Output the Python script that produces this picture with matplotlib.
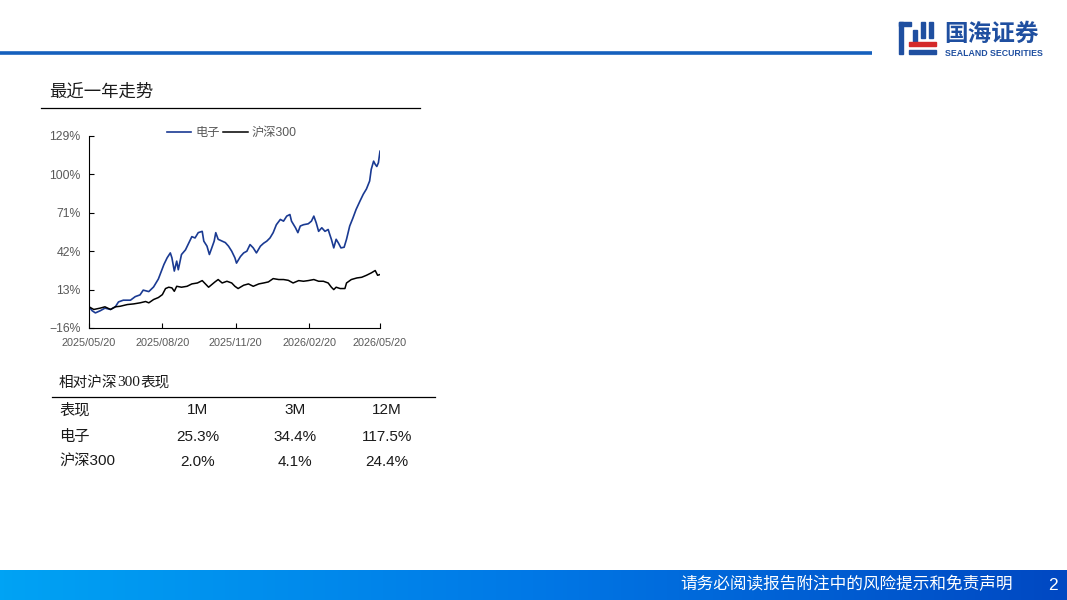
import matplotlib
matplotlib.use("Agg")
import matplotlib.pyplot as plt
import matplotlib.dates as mdates
from matplotlib.patches import Rectangle
import numpy as np

plt.rcParams['font.family'] = ['Liberation Sans', 'Noto Sans CJK SC', 'DejaVu Sans']

# days since 2025/05/20 and cumulative return (%)
dz_days = [0, 4, 8, 14, 20, 27, 33, 37, 43, 52, 58, 64, 68, 75, 81, 87, 94, 98, 102, 104,
           107, 110, 112, 116, 121, 125, 129, 133, 137, 142, 144, 148, 151, 154, 157, 159, 162,
           167, 171, 175, 179, 183, 185, 190, 194, 198, 202, 206, 210, 215, 219, 223, 227, 231,
           235, 240, 244, 248, 252, 254, 259, 262, 265, 269, 275, 279, 282, 285, 288, 292, 296,
           300, 302, 304, 307, 310, 313, 316, 320, 323, 327, 331, 335, 340, 344, 348, 352, 354,
           357, 359, 361, 363, 365]
dz_vals = [0, -3, -4.6, -3, -1, -2, 0, 3.7, 5, 5, 7.7, 9, 12.6, 11.5, 15, 21, 32, 37, 40.7, 37,
           27, 34.5, 28, 39.5, 43, 48, 53, 52, 56, 57, 49.6, 45.8, 39.5, 44.5, 49.6, 56, 51,
           49.6, 48.5, 45.8, 42, 37, 33, 38, 40.7, 42, 47, 44.5, 40.7, 45.8, 48, 49.6, 52, 56,
           62, 66, 64.7, 68.5, 69.7, 64.7, 59.7, 56, 61, 62, 62.7, 64.7, 68.5, 63.4, 57, 59.7, 57,
           58.4, 54.6, 51, 44.5, 51, 48, 44.5, 45, 51, 61, 67, 73.5, 80, 85, 89, 95, 103.8,
           110, 107.6, 106, 108.8, 117.5]

hs_days = [0, 6, 14, 20, 27, 33, 39, 48, 56, 64, 71, 75, 81, 87, 92, 96, 100, 104, 107, 110,
           116, 123, 129, 136, 142, 146, 150, 154, 158, 162, 167, 173, 179, 183, 187, 194, 200,
           206, 213, 219, 225, 231, 238, 244, 250, 256, 263, 269, 275, 282, 288, 294, 300, 304,
           307, 310, 315, 321, 323, 329, 336, 342, 348, 354, 359, 362, 365]
hs_vals = [0, -2, -1, 0, -2, 0, 0.4, 1.7, 2.2, 3, 4, 3, 5.5, 7, 9.2, 13.8, 14.8, 14.3, 11.7,
           15.5, 14.8, 15.5, 17.3, 18, 19.8, 17.3, 14.8, 16.8, 18.8, 20.6, 18, 19.3, 18, 15.5,
           13.8, 16.3, 17.3, 15.5, 17.3, 18, 18.8, 21.3, 20.6, 20.6, 20, 18, 19.8, 19.3, 19.8,
           20.6, 19.3, 19.3, 18, 14.8, 13, 14.8, 13.8, 13.8, 18, 20.6, 21.8, 22.3, 23.8, 25.6,
           27.4, 23.8, 24.4]

y_ticks = [-16, 13, 42, 71, 100, 129]
x_tick_dates = ['2025-05-20', '2025-08-20', '2025-11-20', '2026-02-20', '2026-05-20']

tbl_cols = ['表现', '1M', '3M', '12M']
tbl_rows = [['电子', '25.3%', '34.4%', '117.5%'],
            ['沪深300', '2.0%', '4.1%', '24.4%']]

W, H = 1067, 600
fig = plt.figure(figsize=(W / 100, H / 100), dpi=100)

# page decoration layer in pixel coords
bg = fig.add_axes([0, 0, 1, 1])
bg.set_xlim(0, W)
bg.set_ylim(H, 0)
bg.axis('off')

bg.plot([0, 872], [53, 53], color='#1560bd', lw=2.6, solid_capstyle='butt')

# logo
blue_logo = '#1f4fa0'
bg.add_patch(Rectangle((899, 22), 4, 32, color=blue_logo))
bg.add_patch(Rectangle((899, 22), 12, 4, color=blue_logo))
bg.add_patch(Rectangle((913, 30), 4, 12, color=blue_logo))
bg.add_patch(Rectangle((921, 22), 4, 16, color=blue_logo))
bg.add_patch(Rectangle((929, 22), 4, 16, color=blue_logo))
bg.add_patch(Rectangle((909, 42), 27, 4, color='#d42a2a'))
bg.add_patch(Rectangle((909, 50), 27, 4, color=blue_logo))
bg.text(944, 34, '国海证券', fontsize=17, fontweight='bold', color=blue_logo,
        family=['Noto Sans CJK SC'], va='center', ha='left')
bg.text(945, 53, 'SEALAND SECURITIES', fontsize=6.3, fontweight='bold', color=blue_logo,
        va='center', ha='left')

# section title
bg.text(49, 92, '最近一年走势', fontsize=12.5, family=['Noto Sans CJK SC'], va='center', ha='left',
        color='#1a1a1a')
bg.plot([41, 420], [108, 108], color='black', lw=0.9)

# table
bg.text(59, 383, '相对沪深', fontsize=10.5, family=['Noto Sans CJK SC'], va='center', ha='left',
        color='#1a1a1a')
bg.text(117, 383, '300', fontsize=11, family=['Liberation Serif'], va='center', ha='left',
        color='#1a1a1a')
bg.text(140, 383, '表现', fontsize=10.5, family=['Noto Sans CJK SC'], va='center', ha='left',
        color='#1a1a1a')
bg.plot([52, 435], [397, 397], color='black', lw=0.9)
col_x = [59, 198, 295, 387]
row_y = [410, 437, 462]
for r, row in enumerate([tbl_cols] + tbl_rows):
    for c, txt in enumerate(row):
        bg.text(col_x[c], row_y[r], txt, fontsize=11, va='center',
                ha='left' if c == 0 else 'center', color='#1a1a1a',
                family=['Liberation Sans', 'Noto Sans CJK SC'])

# footer band with gradient
grad = np.linspace(0, 1, 256).reshape(1, -1)
cmap = matplotlib.colors.LinearSegmentedColormap.from_list('ft', ['#00a3f4', '#0078e6', '#0048c2'])
bg.imshow(grad, extent=[0, W, 600, 570], aspect='auto', cmap=cmap, zorder=1)
bg.set_xlim(0, W)
bg.set_ylim(H, 0)
bg.text(1013, 585, '请务必阅读报告附注中的风险提示和免责声明', fontsize=12, color='white',
        family=['Noto Sans CJK SC'], va='center', ha='right', zorder=3)
bg.text(1053, 585, '2', fontsize=12.5, color='white', va='center', ha='center', zorder=3)

# chart
ax = fig.add_axes([89 / W, (H - 328) / H, 291 / W, 192 / H])
start = np.datetime64('2025-05-20')
dz_dates = start + np.array(dz_days).astype('timedelta64[D]')
hs_dates = start + np.array(hs_days).astype('timedelta64[D]')
ax.plot(dz_dates, dz_vals, color='#1a3a92', lw=1.2, label='电子')
ax.plot(hs_dates, hs_vals, color='black', lw=1.1, label='沪深300')

ax.set_xlim(np.datetime64('2025-05-20'), np.datetime64('2026-05-20'))
ax.set_ylim(-16, 129)
ax.set_yticks(y_ticks)
ax.set_yticklabels([f"{v}%".replace('-', '\u2212') for v in y_ticks])
ax.set_xticks([np.datetime64(d) for d in x_tick_dates])
ax.xaxis.set_major_formatter(mdates.DateFormatter('%Y/%m/%d'))
ax.tick_params(axis='y', direction='in', length=3.5, width=0.8, labelsize=8.8,
               labelcolor='#595959', pad=6)
ax.tick_params(axis='x', direction='in', length=3.5, width=0.8, labelsize=7.8,
               labelcolor='#595959', pad=7)
for s in ['top', 'right']:
    ax.spines[s].set_visible(False)
for s in ['left', 'bottom']:
    ax.spines[s].set_linewidth(0.8)
ax.patch.set_alpha(0)

leg = ax.legend(loc='center', bbox_to_anchor=(0.49, 1.015), ncol=2, frameon=False,
                handlelength=2.0, handletextpad=0.3, columnspacing=0.3,
                prop={'family': ['Liberation Sans', 'Noto Sans CJK SC'], 'size': 8.8})
for t in leg.get_texts():
    t.set_color('#595959')

fig.savefig('out.png', dpi=100)
